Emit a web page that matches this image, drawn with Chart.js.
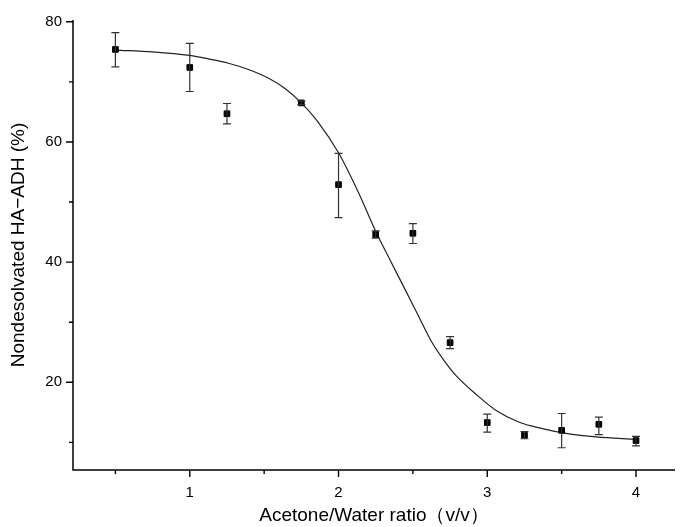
<!DOCTYPE html>
<html>
<head>
<meta charset="utf-8">
<script src="https://cdn.jsdelivr.net/npm/chart.js@4.4.1/dist/chart.umd.min.js"></script>
<style>
  html, body { margin: 0; padding: 0; background: #fff; }
  #wrap { width: 680px; height: 527px; position: relative; }
</style>
</head>
<body>
<div id="wrap"><canvas id="chart"></canvas></div>
<script>
// ── Data ────────────────────────────────────────────────────────────────────

const ratios   = [0.5, 1.0, 1.25, 1.75, 2.0, 2.25, 2.5, 2.75, 3.0, 3.25, 3.5, 3.75, 4.0];
const measured = [75.4, 72.4, 64.7, 66.5, 52.9, 44.6, 44.8, 26.6, 13.3, 11.2, 12.0, 13.0, 10.3];
const errLow   = [72.5, 68.4, 63.0, 66.2, 47.4, 44.0, 43.1, 25.6, 11.7, 10.6, 9.1, 11.3, 9.4];
const errHigh  = [78.2, 76.4, 66.4, 66.8, 58.1, 45.2, 46.4, 27.6, 14.7, 11.8, 14.8, 14.2, 11.0];

// fitted sigmoid
const fitX = [0.5, 0.75, 1.0, 1.13, 1.26, 1.39, 1.53, 1.64, 1.75, 1.86, 2.0, 2.13, 2.26, 2.35, 2.44,
              2.53, 2.62, 2.71, 2.79, 2.92, 3.06, 3.21, 3.37, 3.55, 3.73, 4.0];
const fitY = [75.3, 75.0, 74.4, 73.8, 73.1, 72.1, 70.6, 68.9, 66.5, 63.4, 58.2, 51.8, 44.6, 40.2, 35.8,
              31.4, 27.0, 23.6, 21.1, 18.1, 15.3, 13.4, 12.3, 11.4, 10.9, 10.5];

const xTicks      = [1, 2, 3, 4];
const xMinorTicks = [0.5, 1.5, 2.5, 3.5];
const yTicks      = [20, 40, 60, 80];
const yMinorTicks = [10, 30, 50, 70];

const xTitle = 'Acetone/Water ratio（v/v）';
const yTitle = 'Nondesolvated HA\u2212ADH (%)';

// ── Plugins ────────────────────────────────────────────────────────────────

const errorBars = {
  id: 'errorBars',
  afterDatasetsDraw(chart) {
    const { ctx, scales: { x, y } } = chart;
    ctx.save();
    ctx.strokeStyle = '#333';
    ctx.lineWidth = 1.2;
    ratios.forEach((r, i) => {
      const px = x.getPixelForValue(r);
      const lo = y.getPixelForValue(errLow[i]);
      const hi = y.getPixelForValue(errHigh[i]);
      ctx.beginPath();
      ctx.moveTo(px, lo); ctx.lineTo(px, hi);
      ctx.moveTo(px - 4, lo); ctx.lineTo(px + 4, lo);
      ctx.moveTo(px - 4, hi); ctx.lineTo(px + 4, hi);
      ctx.stroke();
    });
    ctx.restore();
  }
};

const axesFrame = {
  id: 'axesFrame',
  afterDraw(chart) {
    const { ctx, chartArea: a, scales: { x, y } } = chart;
    ctx.save();
    ctx.strokeStyle = '#000';
    ctx.lineWidth = 1.5;
    ctx.beginPath();
    ctx.moveTo(a.left, a.top);
    ctx.lineTo(a.left, a.bottom);
    ctx.lineTo(a.right, a.bottom);
    ctx.stroke();

    ctx.lineWidth = 1.4;
    ctx.beginPath();
    xTicks.forEach(v => { const p = x.getPixelForValue(v); ctx.moveTo(p, a.bottom); ctx.lineTo(p, a.bottom + 7); });
    xMinorTicks.forEach(v => { const p = x.getPixelForValue(v); ctx.moveTo(p, a.bottom); ctx.lineTo(p, a.bottom + 4); });
    yTicks.forEach(v => { const p = y.getPixelForValue(v); ctx.moveTo(a.left, p); ctx.lineTo(a.left - 7, p); });
    yMinorTicks.forEach(v => { const p = y.getPixelForValue(v); ctx.moveTo(a.left, p); ctx.lineTo(a.left - 4, p); });
    ctx.stroke();
    ctx.restore();
  }
};

// ── Chart ──────────────────────────────────────────────────────────────────

const FONT = "'Liberation Sans', Arial, sans-serif";

new Chart(document.getElementById('chart'), {
  type: 'scatter',
  data: {
    datasets: [
      {
        label: 'fit',
        data: fitX.map((v, i) => ({ x: v, y: fitY[i] })),
        showLine: true,
        borderColor: '#222',
        borderWidth: 1.2,
        cubicInterpolationMode: 'monotone',
        pointRadius: 0,
        order: 2,
      },
      {
        label: 'measured',
        data: ratios.map((v, i) => ({ x: v, y: measured[i] })),
        pointStyle: 'rect',
        pointRadius: 4,
        pointBackgroundColor: '#000',
        pointBorderColor: '#000',
        pointBorderWidth: 1,
        order: 1,
      }
    ]
  },
  options: {
    responsive: true,
    maintainAspectRatio: false,
    animation: false,
    layout: { padding: { top: 18, right: 0, left: 0, bottom: 0 } },
    plugins: { legend: { display: false }, tooltip: { enabled: false } },
    scales: {
      x: {
        type: 'linear',
        min: 0.215, max: 4.262,
        afterBuildTicks: s => { s.ticks = xTicks.map(v => ({ value: v })); },
        afterFit: s => { s.height = 57; },
        grid: { display: false, drawTicks: false },
        border: { display: false },
        ticks: { color: '#000', padding: 14, font: { family: FONT, size: 15 } },
        title: { display: true, text: xTitle, color: '#000', padding: { top: 0, bottom: 0 },
                 font: { family: FONT, size: 19 } }
      },
      y: {
        min: 5.4, max: 80.3,
        afterBuildTicks: s => { s.ticks = yTicks.map(v => ({ value: v })); },
        afterFit: s => { s.width = 73; },
        grid: { display: false, drawTicks: false },
        border: { display: false },
        ticks: { color: '#000', padding: 11, font: { family: FONT, size: 15 } },
        title: { display: true, text: yTitle, color: '#000', padding: { top: 7, bottom: 0 },
                 font: { family: FONT, size: 19 } }
      }
    }
  },
  plugins: [errorBars, axesFrame]
});
</script>
</body>
</html>
